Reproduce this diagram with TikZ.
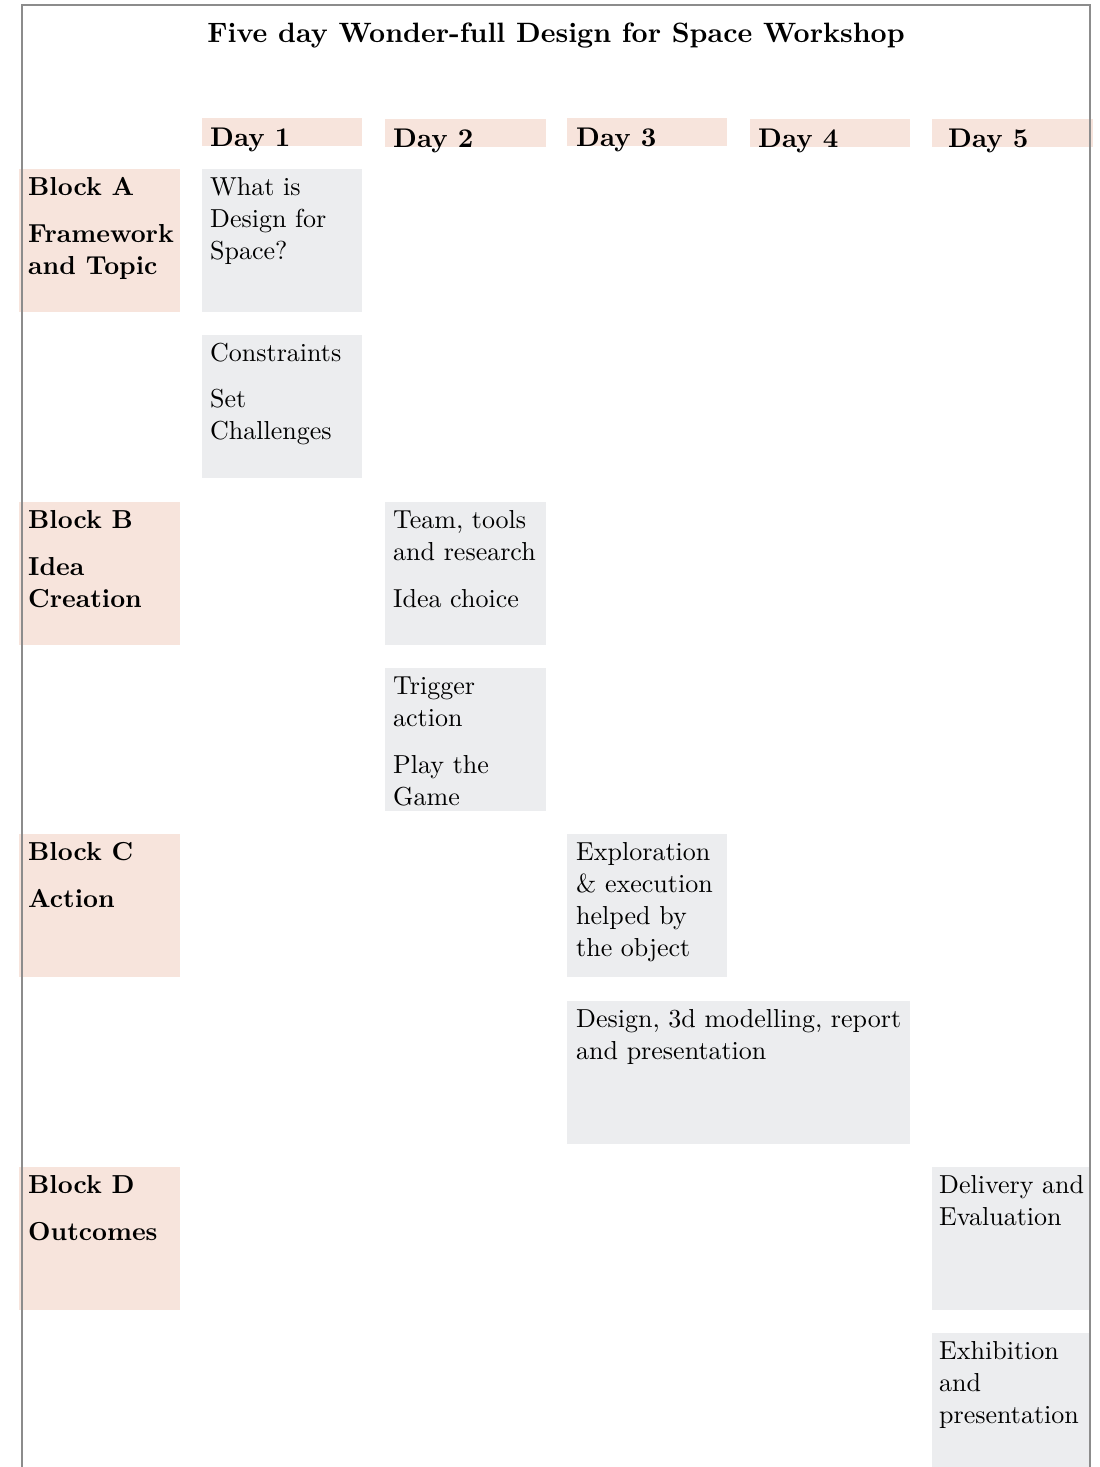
\documentclass[tikz,border=0pt]{standalone}
\usepackage{fontspec}
\setmainfont{lmroman10-regular.otf}[BoldFont=lmroman10-bold.otf,ItalicFont=lmroman10-italic.otf]
\usetikzlibrary{calc}
\definecolor{blockpink}{HTML}{F7E4DC}
\definecolor{cellgray}{HTML}{ECEDEF}
\definecolor{framegray}{HTML}{8C8C8C}
\newcommand{\bodyfont}{\fontsize{26}{32}\selectfont}
\newcommand{\cellpar}[1]{\parbox[t]{330pt}{\raggedright\bodyfont #1}}
\begin{document}
\begin{tikzpicture}[x=1pt,y=-1pt,
  box/.style={anchor=north west,inner sep=0pt,outer sep=0pt,draw=none},
  blockbox/.style={box,fill=blockpink,minimum width=161pt,minimum height=143pt},
  cellbox/.style={box,fill=cellgray,minimum height=143pt},
  dayband/.style={box,fill=blockpink,minimum height=28pt},
  daytext/.style={anchor=base west,inner sep=0pt,font=\fontsize{27}{32}\selectfont\bfseries},
  celltext/.style={anchor=base west,inner sep=0pt},
  frameline/.style={draw=framegray,line width=1.4pt}]
\useasboundingbox (0,0) rectangle (1100,1467);

% title
\node[anchor=base,inner sep=0pt,font=\fontsize{28}{34}\selectfont\bfseries] (title) at (556,42)
  {Five day Wonder-full Design for Space Workshop};

% day header bands
\node[dayband,minimum width=160pt] (day1) at (202,118) {};
\node[dayband,minimum width=161pt] (day2) at (385,119) {};
\node[dayband,minimum width=160pt] (day3) at (567,118) {};
\node[dayband,minimum width=160pt] (day4) at (750,119) {};
\node[dayband,minimum width=161pt] (day5) at (932,119) {};
\node[daytext] (day1t) at ($(day1.north west)+(8,28)$) {Day 1};
\node[daytext] (day2t) at ($(day2.north west)+(8,28)$) {Day 2};
\node[daytext] (day3t) at ($(day3.north west)+(9,28)$) {Day 3};
\node[daytext] (day4t) at ($(day4.north west)+(8,28)$) {Day 4};
\node[daytext] (day5t) at ($(day5.north west)+(16,28)$) {Day 5};

% block labels
\node[blockbox] (blka) at (19,169) {};
\node[blockbox] (blkb) at (19,502) {};
\node[blockbox] (blkc) at (19,834) {};
\node[blockbox] (blkd) at (19,1167) {};
\node[celltext] (blkat) at ($(blka.north west)+(9,26)$)
  {\cellpar{\bfseries Block A\\[15pt]Framework\\and Topic}};
\node[celltext] (blkbt) at ($(blkb.north west)+(9,26)$)
  {\cellpar{\bfseries Block B\\[15pt]Idea\\Creation}};
\node[celltext] (blkct) at ($(blkc.north west)+(9,26)$)
  {\cellpar{\bfseries Block C\\[15pt]Action}};
\node[celltext] (blkdt) at ($(blkd.north west)+(9,26)$)
  {\cellpar{\bfseries Block D\\[15pt]Outcomes}};

% activity cells
\node[cellbox,minimum width=160pt] (c1a) at (202,169) {};
\node[cellbox,minimum width=160pt] (c1b) at (202,335) {};
\node[cellbox,minimum width=161pt] (c2a) at (385,502) {};
\node[cellbox,minimum width=161pt] (c2b) at (385,668) {};
\node[cellbox,minimum width=160pt] (c3a) at (567,834) {};
\node[cellbox,minimum width=343pt] (c34) at (567,1001) {};
\node[cellbox,minimum width=158pt] (c5a) at (932,1167) {};
\node[cellbox,minimum width=158pt,minimum height=134pt] (c5b) at (932,1333) {};

\node[celltext] (c1at) at ($(c1a.north west)+(8,26)$) {\cellpar{What is\\Design for\\Space?}};
\node[celltext] (c1bt) at ($(c1b.north west)+(8,26)$) {\cellpar{Constraints\\[14pt]Set\\Challenges}};
\node[celltext] (c2at) at ($(c2a.north west)+(8,26)$) {\cellpar{Team, tools\\and research\\[15pt]Idea choice}};
\node[celltext] (c2bt) at ($(c2b.north west)+(8,26)$) {\cellpar{Trigger\\action\\[15pt]Play the\\Game}};
\node[celltext] (c3at) at ($(c3a.north west)+(9,26)$) {\cellpar{Exploration\\\&~execution\\helped by\\the object}};
\node[celltext] (c34t) at ($(c34.north west)+(9,26)$) {\cellpar{Design, 3d modelling, report\\and presentation}};
\node[celltext] (c5at) at ($(c5a.north west)+(7,26)$) {\cellpar{Delivery and\\Evaluation}};
\node[celltext] (c5bt) at ($(c5b.north west)+(7,26)$) {\cellpar{Exhibition\\and\\presentation}};

% outer frame, open at the bottom
\coordinate (fbl) at (22,1467);
\coordinate (ftl) at (22,5);
\coordinate (ftr) at (1090,5);
\coordinate (fbr) at (1090,1467);
\draw[frameline] (fbl) -- (ftl) -- (ftr) -- (fbr);
\end{tikzpicture}
\end{document}
